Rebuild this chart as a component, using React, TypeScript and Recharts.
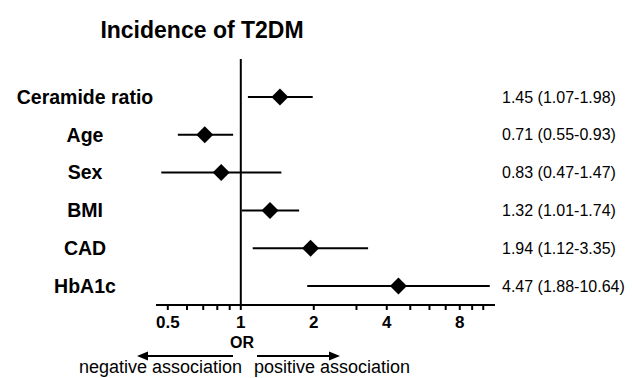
import React from 'react';
import {
  ComposedChart,
  XAxis,
  YAxis,
  Scatter,
  ErrorBar,
  ReferenceLine,
  Customized,
} from 'recharts';

const categories = ['Ceramide ratio', 'Age', 'Sex', 'BMI', 'CAD', 'HbA1c'];
const oddsRatios = [1.45, 0.71, 0.83, 1.32, 1.94, 4.47];
const ciLower = [1.07, 0.55, 0.47, 1.01, 1.12, 1.88];
const ciUpper = [1.98, 0.93, 1.47, 1.74, 3.35, 10.64];
const xTicks = [0.5, 0.6, 0.7, 0.8, 0.9, 1, 2, 3, 4, 5, 6, 7, 8, 9, 10];
const labeledTicks = [0.5, 1, 2, 4, 8];
const xDomain = [0.447, 11.18];

const FONT = '"Liberation Sans", Arial, Helvetica, sans-serif';

const rows = categories.map((name, i) => ({
  name,
  or: oddsRatios[i],
  err: [oddsRatios[i] - ciLower[i], ciUpper[i] - oddsRatios[i]],
  label: `${oddsRatios[i].toFixed(2)} (${ciLower[i].toFixed(2)}-${ciUpper[i].toFixed(2)})`,
}));

const LeftTick = (props: any) => {
  const { y, payload } = props;
  return (
    <text
      x={85}
      y={y}
      dy="0.35em"
      textAnchor="middle"
      fill="#000"
      style={{ fontFamily: FONT, fontSize: 19.5, fontWeight: 'bold' }}
    >
      {payload.value}
    </text>
  );
};

const RightTick = (props: any) => {
  const { y, payload } = props;
  const row = rows.find((r) => r.name === payload.value);
  return (
    <text
      x={502}
      y={y}
      dy="0.35em"
      textAnchor="start"
      fill="#000"
      style={{ fontFamily: FONT, fontSize: 16 }}
    >
      {row ? row.label : ''}
    </text>
  );
};

const Diamond = (props: any) => {
  const { cx, cy } = props;
  if (cx == null || cy == null) return null;
  const r = 8.5;
  return (
    <path
      d={`M${cx},${cy - r} L${cx + r},${cy} L${cx},${cy + r} L${cx - r},${cy} Z`}
      fill="#000"
    />
  );
};

const Annotations = () => (
  <g>
    <text
      x={202}
      y={38}
      textAnchor="middle"
      fill="#000"
      style={{ fontFamily: FONT, fontSize: 23, fontWeight: 'bold' }}
    >
      Incidence of T2DM
    </text>
    <text
      x={242}
      y={348}
      textAnchor="middle"
      fill="#000"
      style={{ fontFamily: FONT, fontSize: 16, fontWeight: 'bold' }}
    >
      OR
    </text>
    <line x1={233} y1={356} x2={145} y2={356} stroke="#000" strokeWidth={2} />
    <path d="M137,356 L148,351.5 L148,360.5 Z" fill="#000" />
    <line x1={257} y1={356} x2={332} y2={356} stroke="#000" strokeWidth={2} />
    <path d="M340,356 L329,351.5 L329,360.5 Z" fill="#000" />
    <text
      x={242}
      y={373}
      textAnchor="end"
      fill="#000"
      style={{ fontFamily: FONT, fontSize: 18 }}
    >
      negative association
    </text>
    <text
      x={254}
      y={373}
      textAnchor="start"
      fill="#000"
      style={{ fontFamily: FONT, fontSize: 18 }}
    >
      positive association
    </text>
  </g>
);

export default function App() {
  return (
    <div style={{ position: 'absolute', left: 0, top: 0, background: '#fff' }}>
      <ComposedChart
        layout="vertical"
        width={632}
        height={378}
        data={rows}
        margin={{ top: 59, right: 0, bottom: 0, left: 0 }}
      >
        <XAxis
          type="number"
          dataKey="or"
          scale="log"
          domain={xDomain}
          allowDataOverflow
          ticks={xTicks}
          interval={0}
          tickFormatter={(v: number) => (labeledTicks.includes(v) ? String(v) : '')}
          height={73}
          axisLine={{ stroke: '#000', strokeWidth: 2 }}
          tickLine={{ stroke: '#000', strokeWidth: 2 }}
          tickSize={5}
          tickMargin={6}
          tick={{ fill: '#000', fontSize: 17, fontWeight: 'bold', fontFamily: FONT }}
        />
        <YAxis
          yAxisId="left"
          type="category"
          scale="point"
          dataKey="name"
          width={156}
          axisLine={false}
          tickLine={false}
          interval={0}
          padding={{ top: 38, bottom: 19 }}
          tick={<LeftTick />}
        />
        <YAxis
          yAxisId="right"
          orientation="right"
          type="category"
          scale="point"
          dataKey="name"
          width={137}
          axisLine={false}
          tickLine={false}
          interval={0}
          padding={{ top: 38, bottom: 19 }}
          tick={<RightTick />}
        />
        <ReferenceLine x={1} yAxisId="left" stroke="#000" strokeWidth={2} />
        <Scatter
          yAxisId="left"
          dataKey="or"
          shape={<Diamond />}
          isAnimationActive={false}
        >
          <ErrorBar
            dataKey="err"
            direction="x"
            width={0}
            stroke="#000"
            strokeWidth={2}
            isAnimationActive={false}
          />
        </Scatter>
        <Customized component={Annotations} />
      </ComposedChart>
    </div>
  );
}
